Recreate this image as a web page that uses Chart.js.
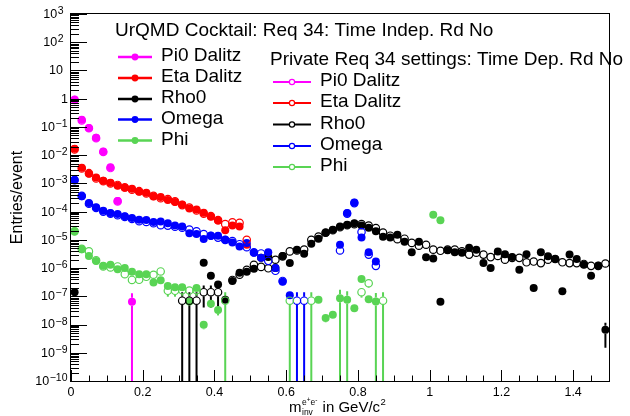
<!DOCTYPE html>
<html>
<head>
<meta charset="utf-8">
<script src="https://cdn.jsdelivr.net/npm/chart.js@4.4.0/dist/chart.umd.min.js"></script>
<style>
body { margin: 0; background: #fff; }
#wrap { width: 630px; height: 416px; }
</style>
</head>
<body>
<div id="wrap"><canvas id="myChart" width="630" height="416"></canvas></div>
<script>
// bins of m_inv (GeV/c^2), 0.02 wide starting at 0
var binWidth = 0.02;

// UrQMD cocktail (filled markers), one value per bin, null = empty bin
var pi0Urqmd = [0.93, 0.18, 0.092, 0.041, 0.0136, 0.0037, 2.4e-4, null, 6.4e-8];
var etaUrqmd = [1.7e-2, 3.6e-3, 2.2e-3, 1.6e-3, 1.25e-3, 1.06e-3, 8.3e-4, 7.0e-4, 6.5e-4, 5.1e-4,
    4.7e-4, 3.4e-4, 3.3e-4, 2.6e-4, 2.2e-4, 1.8e-4, 1.3e-4, 1.2e-4, 9.1e-5, 6.6e-5,
    4.8e-5, 2.2e-5, 3.2e-5, 3.0e-5, 6.7e-6];
var rhoUrqmd = [1.4e-7, null, null, null, null, null, null, null, null, null,
    null, null, null, null, null, null, null, null, 1.54e-6, 5.3e-7,
    2.6e-7, 7.5e-8, 3.5e-7, 6.8e-7, 7.4e-7, 9.4e-7, 2.3e-6, 2.45e-6, 1.0e-6, 2.7e-6,
    1.5e-6, 4.5e-6, 3.2e-6, 7.3e-6, 1.1e-5, 1.8e-5, 2.3e-5, 3.0e-5, 3.4e-5, 3.9e-5,
    3.2e-5, 2.7e-5, 2.0e-5, 1.3e-5, 1.2e-5, 1.5e-5, 8.6e-6, 3.6e-6, 8.6e-6, 2.4e-6,
    2.2e-6, 6.4e-8, 4.3e-6, 3.6e-6, 3.5e-6, 5.2e-6, 4.5e-6, 1.5e-6, 1.0e-6, 3.9e-6,
    3.1e-6, 2.45e-6, 8.7e-7, 3.1e-6, 1.95e-7, 3.6e-6, 2.6e-6, 2.1e-6, 1.5e-7, 3.0e-6,
    2.1e-6, 1.3e-6, 5.3e-7, 1.2e-6, 6.5e-9];
var omegaUrqmd = [1.35e-3, 3.5e-4, 2.0e-4, 1.44e-4, 1.07e-4, 8.9e-5, 8.2e-5, 6.8e-5, 5.9e-5, 5.2e-5,
    5.0e-5, 4.3e-5, 4.5e-5, 3.9e-5, 3.2e-5, 3.0e-5, 1.7e-5, 1.6e-5, 1.07e-5, 1.4e-5,
    1.4e-5, 1.0e-5, 8.1e-6, 5.8e-6, 7.7e-6, 3.5e-6, 2.3e-6, 3.6e-6, 1.0e-6, 3.3e-7,
    1.1e-7, null, null, null, null, null, null, 6.7e-6, 8.9e-5, 2.1e-4,
    1.2e-5, 3.6e-6, 1.7e-6];
var phiUrqmd = [2.0e-5, 4.65e-6, 2.7e-6, 1.77e-6, 1.21e-6, 1.31e-6, 9.1e-7, 1.0e-6, 7.4e-7, 6.1e-7,
    6.1e-7, 3.1e-7, 3.7e-7, 2.3e-7, 2.1e-7, 2.1e-7, 6.5e-8, 1.95e-7, 9.8e-9, 5.4e-8,
    3.3e-8, null, null, null, null, null, null, null, null, null,
    null, null, null, null, 7.5e-8, 1.7e-8, 2.2e-8, 8.6e-8, 7.5e-8, 3.8e-8,
    4.1e-7, 7.9e-8, 6.5e-8, null, null, null, null, null, null, null,
    7.8e-5, 4.9e-5];

// private Req 34 production (open markers)
var pi0Private = [0.9, 0.17, 0.09, 0.04, 0.013, 0.0035, 2.3e-4];
var etaPrivate = [1.6e-2, 3.4e-3, 2.3e-3, 1.5e-3, 1.2e-3, 1.0e-3, 8.8e-4, 7.2e-4, 6.0e-4, 5.3e-4,
    4.4e-4, 3.6e-4, 3.0e-4, 2.8e-4, 2.3e-4, 1.7e-4, 1.4e-4, 1.1e-4, 8.5e-5, 7.0e-5,
    5.0e-5, 3.6e-5, 4.2e-5, 4.0e-5, 1.0e-5];
var rhoPrivate = [null, null, null, null, null, null, null, null, null, null,
    null, null, null, null, null, 7e-8, 7e-8, 7e-8, 1.4e-7, 1.4e-7,
    1.4e-7, null, 3.8e-7, 5.8e-7, 8.7e-7, 1.3e-6, 1.1e-6, 9.8e-7, 1.97e-6, 2.6e-6,
    3.9e-6, 4.2e-6, 4.5e-6, 1.0e-5, 1.3e-5, 1.8e-5, 2.2e-5, 2.8e-5, 3.3e-5, 3.6e-5,
    3.6e-5, 3.2e-5, 2.6e-5, 1.8e-5, 1.4e-5, 1.05e-5, 1.1e-5, 7.8e-6, 6.2e-6, 6.7e-6,
    4.5e-6, 4.1e-6, 4.5e-6, 4.5e-6, 3.9e-6, 3.0e-6, 3.5e-6, 3.0e-6, 2.45e-6, 2.7e-6,
    1.97e-6, 2.3e-6, 2.3e-6, 1.6e-6, 1.7e-6, 1.5e-6, 1.97e-6, 2.1e-6, 1.6e-6, 1.5e-6,
    1.5e-6, 1.4e-6, 1.2e-6, 1.2e-6, 1.45e-6];
var omegaPrivate = [1.3e-3, 3.6e-4, 1.9e-4, 1.35e-4, 1.0e-4, 8.5e-5, 7.5e-5, 6.5e-5, 5.5e-5, 4.6e-5,
    4.3e-5, 3.9e-5, 3.3e-5, 3.2e-5, 2.9e-5, 2.7e-5, 2.3e-5, 2.0e-5, 1.6e-5, 1.4e-5,
    1.2e-5, 1.0e-5, 9.0e-6, 7.0e-6, 5.5e-6, 3.6e-6, 3.3e-6, 1.8e-6, 8.0e-7, 3.5e-7,
    null, 7e-8, 7e-8, null, null, null, null, 4.2e-6, 8.5e-5, 2.0e-4,
    1.9e-5, 3.0e-6, 1.2e-6];
var phiPrivate = [2.0e-5, 4.8e-6, 3.9e-6, 1.9e-6, 1.14e-6, 1.05e-6, 1.14e-6, 6.1e-7, 3.8e-7, 3.85e-7,
    4.9e-7, 5.8e-7, 7.6e-7, 1.57e-7, 1.57e-7, 1.65e-7, 1.6e-7, 1.65e-7, null, null,
    null, 7e-8, null, null, null, null, null, null, null, null,
    7e-8, null, null, 7e-8, null, null, null, null, null, null,
    1.4e-7, 2.9e-7, null, 7e-8];

// visible error bars, bin -> error
var pi0UrqmdErr = {8: 6.4e-8};
var rhoUrqmdErr = {74: 5e-9};
var omegaUrqmdErr = {30: 3e-8};
var phiUrqmdErr = {16: 1.5e-8, 18: 3e-9, 19: 1e-8, 20: 1.2e-8, 35: 5e-9, 36: 6e-9, 37: 8.6e-8, 38: 7.5e-8, 42: 6.5e-8};
var rhoPrivateErr = {15: 7e-8, 16: 7e-8, 17: 7e-8, 18: 1e-7, 19: 1e-7, 20: 1e-7};
var omegaPrivateErr = {31: 7e-8, 32: 7e-8};
var phiPrivateErr = {8: 1e-7, 9: 1e-7, 13: 6e-8, 14: 6e-8, 15: 6e-8, 16: 6e-8, 17: 6e-8, 21: 7e-8, 30: 7e-8, 33: 7e-8, 40: 5e-8, 41: 9e-8, 43: 7e-8};

var speciesNames = ['Pi0 Dalitz', 'Eta Dalitz', 'Rho0', 'Omega', 'Phi'];
var speciesColors = ['#ff00ff', '#ff0000', '#000000', '#0000ff', '#59d454'];
var legendTitles = ['UrQMD Cocktail: Req 34: Time Indep. Rd No', 'Private Req 34 settings: Time Dep. Rd No'];
var xTickLabels = ['0', '0.2', '0.4', '0.6', '0.8', '1', '1.2', '1.4'];
var yDecades = [-10, -9, -8, -7, -6, -5, -4, -3, -2, -1, 0, 1, 2, 3];

var FONT = "'Liberation Sans', Arial, sans-serif";
var R = 4;

function makePoints(values) {
    var pts = [];
    for (var i = 0; i < values.length; i++) {
        if (values[i] !== null && values[i] !== undefined) {
            pts.push({x: binWidth * (i + 0.5), y: values[i], bin: i});
        }
    }
    return pts;
}

var urqmd = [pi0Urqmd, etaUrqmd, rhoUrqmd, omegaUrqmd, phiUrqmd];
var urqmdErr = [pi0UrqmdErr, null, rhoUrqmdErr, omegaUrqmdErr, phiUrqmdErr];
var priv = [pi0Private, etaPrivate, rhoPrivate, omegaPrivate, phiPrivate];
var privErr = [null, null, rhoPrivateErr, omegaPrivateErr, phiPrivateErr];

var datasets = [];
for (var s = 0; s < 5; s++) {
    datasets.push({
        label: speciesNames[s],
        data: makePoints(urqmd[s]),
        errors: urqmdErr[s],
        barColor: speciesColors[s],
        showLine: false,
        pointRadius: R,
        pointBackgroundColor: speciesColors[s],
        pointBorderColor: speciesColors[s],
        pointBorderWidth: 0
    });
}
for (var s = 0; s < 5; s++) {
    datasets.push({
        label: speciesNames[s] + ' (private)',
        data: makePoints(priv[s]),
        errors: privErr[s],
        barColor: speciesColors[s],
        showLine: false,
        pointRadius: R - 0.3,
        pointBackgroundColor: 'rgba(0,0,0,0)',
        pointBorderColor: speciesColors[s],
        pointBorderWidth: 1.2
    });
}
// first one drawn first, later ones on top
for (var i = 0; i < datasets.length; i++) {
    datasets[i].order = datasets.length - i;
}

var errorBars = {
    id: 'errorBars',
    beforeDatasetsDraw: function(chart) {
        var ctx = chart.ctx, area = chart.chartArea;
        var xs = chart.scales.x, ys = chart.scales.y;
        ctx.save();
        ctx.beginPath();
        ctx.rect(area.left, area.top, area.right - area.left, area.bottom - area.top);
        ctx.clip();
        ctx.lineWidth = 2;
        chart.data.datasets.forEach(function(ds) {
            if (!ds.errors) return;
            ctx.strokeStyle = ds.barColor;
            ds.data.forEach(function(p) {
                var e = ds.errors[p.bin];
                if (!e) return;
                var px = xs.getPixelForValue(p.x);
                var py = ys.getPixelForValue(p.y);
                var top = ys.getPixelForValue(p.y + e);
                var bot = (p.y - e > 1e-12) ? ys.getPixelForValue(p.y - e) : area.bottom;
                if (bot > area.bottom) bot = area.bottom;
                ctx.beginPath();
                if (top < py - R) { ctx.moveTo(px, top); ctx.lineTo(px, py - R); }
                if (bot > py + R) { ctx.moveTo(px, py + R); ctx.lineTo(px, bot); }
                ctx.stroke();
            });
        });
        ctx.restore();
    }
};

function drawYLabel(ctx, e, y) {
    ctx.fillStyle = '#000';
    if (e === 0) {
        ctx.font = '12.5px ' + FONT;
        ctx.textAlign = 'right';
        ctx.textBaseline = 'middle';
        ctx.fillText('1', 68, y + 0.5);
        return;
    }
    if (e === 1) {
        ctx.font = '12.5px ' + FONT;
        ctx.textAlign = 'right';
        ctx.textBaseline = 'middle';
        ctx.fillText('10', 63, y + 0.5);
        return;
    }
    var sup = e < 0 ? '\u2212' + (-e) : String(e);
    var right = e < 0 ? 67.5 : 63.5;
    ctx.font = '10.5px ' + FONT;
    var sw = ctx.measureText(sup).width;
    ctx.textAlign = 'left';
    ctx.textBaseline = 'alphabetic';
    ctx.fillText(sup, right - sw, y);
    ctx.font = '12.5px ' + FONT;
    ctx.textAlign = 'right';
    ctx.textBaseline = 'middle';
    ctx.fillText('10', right - sw - 0.5, y + 0.5);
}

function drawLegendEntry(ctx, x0, x1, y, color, filled, text, textX, r, lw) {
    ctx.strokeStyle = color;
    ctx.lineWidth = lw;
    ctx.beginPath();
    ctx.moveTo(x0, y + 1.5);
    ctx.lineTo(x1, y + 1.5);
    ctx.stroke();
    var mx = (x0 + x1) / 2;
    ctx.beginPath();
    ctx.arc(mx, y + 1.5, r, 0, Math.PI * 2);
    if (filled) {
        ctx.fillStyle = color;
        ctx.fill();
    } else {
        ctx.fillStyle = '#fff';
        ctx.fill();
        ctx.lineWidth = 1.2;
        ctx.stroke();
    }
    ctx.fillStyle = '#000';
    ctx.font = '19px ' + FONT;
    ctx.textAlign = 'left';
    ctx.textBaseline = 'middle';
    ctx.fillText(text, textX, y + 0.5);
}

var axesAndLegend = {
    id: 'axesAndLegend',
    afterDraw: function(chart) {
        var ctx = chart.ctx, area = chart.chartArea;
        var xs = chart.scales.x, ys = chart.scales.y;
        ctx.save();

        // frame
        ctx.strokeStyle = '#000';
        ctx.lineWidth = 1;
        ctx.strokeRect(area.left - 0.5, area.top - 0.5, area.right - area.left + 1, area.bottom - area.top + 1);

        // y axis ticks (log)
        ctx.beginPath();
        for (var d = 0; d < yDecades.length; d++) {
            var e = yDecades[d];
            var y = Math.round(ys.getPixelForValue(Math.pow(10, e))) + 0.5;
            ctx.moveTo(area.left, y);
            ctx.lineTo(area.left + 16, y);
            if (e < 3) {
                for (var m = 2; m <= 9; m++) {
                    var ym = Math.round(ys.getPixelForValue(m * Math.pow(10, e))) + 0.5;
                    ctx.moveTo(area.left, ym);
                    ctx.lineTo(area.left + 8, ym);
                }
            }
        }
        // x axis ticks
        for (var i = 0; i <= 30; i++) {
            var x = Math.round(xs.getPixelForValue(i * 0.05)) + 0.5;
            var len = (i % 4 === 0) ? 11 : 5.5;
            ctx.moveTo(x, area.bottom);
            ctx.lineTo(x, area.bottom - len);
        }
        ctx.stroke();

        for (var d = 0; d < yDecades.length; d++) {
            drawYLabel(ctx, yDecades[d], ys.getPixelForValue(Math.pow(10, yDecades[d])));
        }

        ctx.fillStyle = '#000';
        ctx.font = '12.5px ' + FONT;
        ctx.textAlign = 'center';
        ctx.textBaseline = 'alphabetic';
        for (var i = 0; i < xTickLabels.length; i++) {
            ctx.fillText(xTickLabels[i], xs.getPixelForValue(i * 0.2), 395.5);
        }

        // x title: m_inv^{e+e-} in GeV/c^2
        var tx = 289, tb = 412;
        ctx.textAlign = 'left';
        ctx.font = '15px ' + FONT;
        ctx.fillText('m', tx, tb);
        tx += ctx.measureText('m').width + 0.5;
        ctx.font = '8.5px ' + FONT;
        ctx.fillText('e', tx, tb - 7);
        var w = ctx.measureText('e').width;
        ctx.font = '6.5px ' + FONT;
        ctx.fillText('+', tx + w, tb - 10);
        w += ctx.measureText('+').width;
        ctx.font = '8.5px ' + FONT;
        ctx.fillText('e', tx + w, tb - 7);
        w += ctx.measureText('e').width;
        ctx.font = '6.5px ' + FONT;
        ctx.fillText('-', tx + w, tb - 10);
        w += ctx.measureText('-').width;
        ctx.font = '8.5px ' + FONT;
        ctx.fillText('inv', tx, tb + 3);
        w = Math.max(w, ctx.measureText('inv').width);
        tx += w + 1;
        ctx.font = '15px ' + FONT;
        ctx.fillText(' in GeV/c', tx, tb);
        tx += ctx.measureText(' in GeV/c').width + 0.5;
        ctx.font = '9.5px ' + FONT;
        ctx.fillText('2', tx, tb - 7);

        // y title
        ctx.save();
        ctx.translate(21.5, (area.top + area.bottom) / 2);
        ctx.rotate(-Math.PI / 2);
        ctx.font = '16px ' + FONT;
        ctx.textAlign = 'center';
        ctx.textBaseline = 'alphabetic';
        ctx.fillText('Entries/event', 0, 0);
        ctx.restore();

        // legends
        ctx.fillStyle = '#000';
        ctx.font = '19px ' + FONT;
        ctx.textAlign = 'left';
        ctx.textBaseline = 'middle';
        ctx.fillText(legendTitles[0], 115, 30.5);
        ctx.fillText(legendTitles[1], 270, 59.5);
        var rows1 = [55.5, 76.5, 97.5, 118, 139];
        var rows2 = [80.5, 101.5, 123, 144.5, 165.5];
        for (var s = 0; s < 5; s++) {
            drawLegendEntry(ctx, 118, 152, rows1[s], speciesColors[s], true, speciesNames[s], 161, 3.4, 2.5);
            drawLegendEntry(ctx, 273, 311, rows2[s], speciesColors[s], false, speciesNames[s], 320, 2.6, 2);
        }
        ctx.restore();
    }
};

var ctx = document.getElementById('myChart').getContext('2d');
var myChart = new Chart(ctx, {
    type: 'scatter',
    data: {datasets: datasets},
    options: {
        responsive: false,
        animation: false,
        devicePixelRatio: 1,
        events: [],
        layout: {padding: {left: 71, right: 21, top: 14, bottom: 35}},
        plugins: {legend: {display: false}, tooltip: {enabled: false}},
        scales: {
            x: {type: 'linear', min: 0, max: 1.5, display: false},
            y: {type: 'logarithmic', min: 1e-10, max: 1e3, display: false}
        }
    },
    plugins: [errorBars, axesAndLegend]
});
</script>
</body>
</html>
